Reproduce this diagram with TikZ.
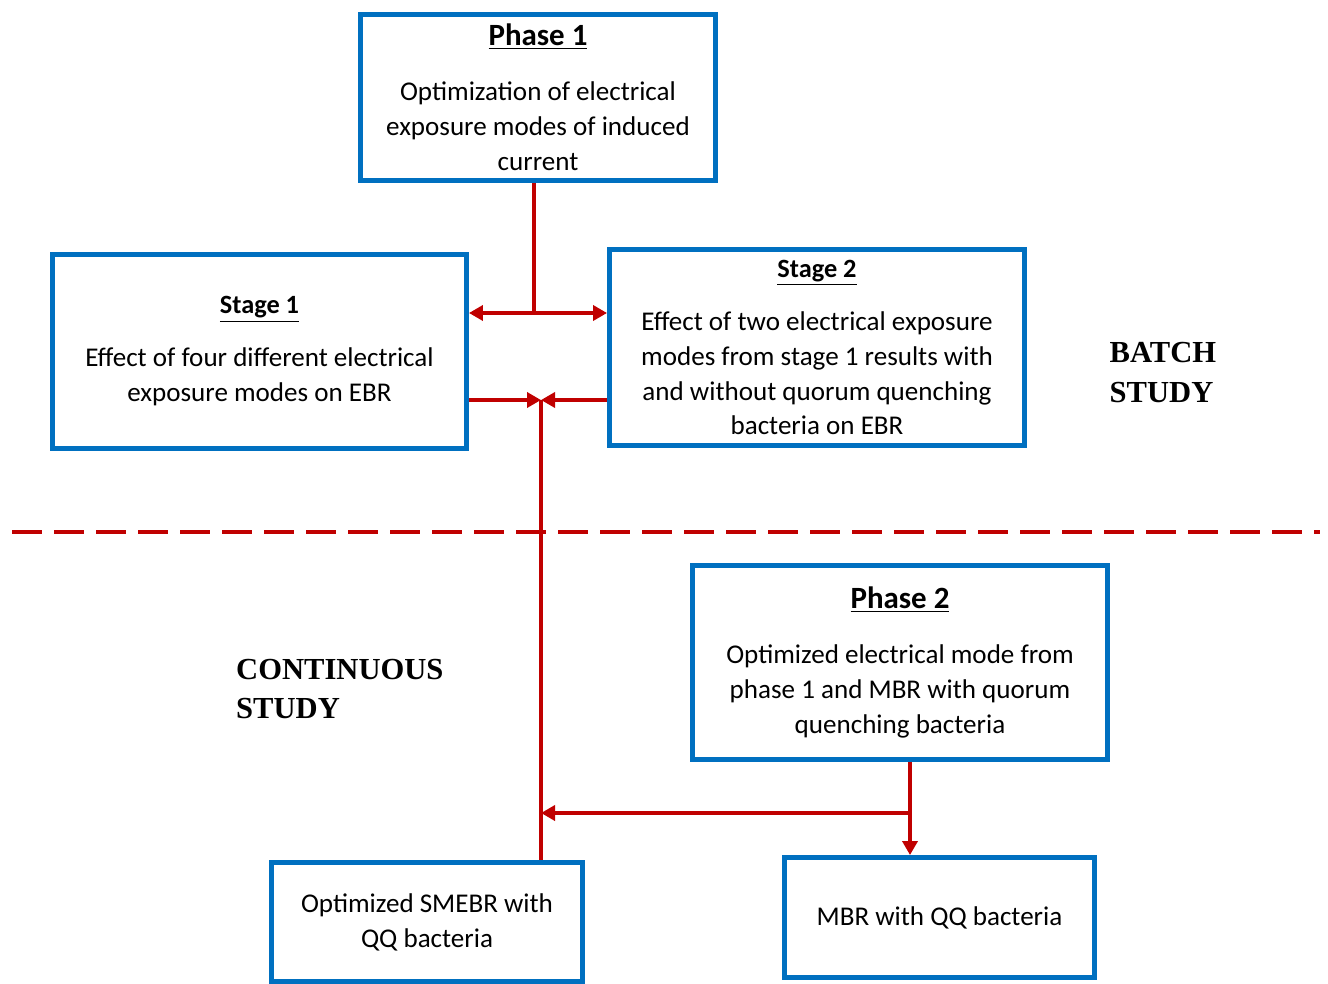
\documentclass[tikz,border=0pt]{standalone}
\usepackage{fontspec}
\setmainfont{Carlito}
\newfontfamily\studyfont{Liberation Serif}
\usepackage{tikz}
\usetikzlibrary{arrows.meta,positioning,calc}

\definecolor{boxblue}{RGB}{0,112,192}
\definecolor{linkred}{RGB}{192,0,0}

\tikzset{
  phasebox/.style={draw=boxblue, line width=2.8pt, rectangle, fill=white, align=center,
    font=\fontsize{15.4}{19.9}\selectfont},
  link/.style={draw=linkred, line width=2.3pt},
  linkarrow/.style={link, -{Triangle[length=0.28cm,width=0.3cm]}},
  studylabel/.style={align=left, anchor=west, font=\studyfont\bfseries\fontsize{17.4}{22.7}\selectfont},
}
\newcommand{\phasetitle}[1]{{\fontsize{17.6}{20}\selectfont\bfseries\underline{#1}}\\[0.4cm]}
\newcommand{\stagetitle}[1]{{\fontsize{15}{18}\selectfont\bfseries\underline{#1}}\\[0.36cm]}

\begin{document}
\begin{tikzpicture}
  \useasboundingbox (0,0) rectangle (26.56,-19.66);

  % Batch study
  \node[phasebox, minimum width=7.1cm, minimum height=3.32cm] (phase1) at (10.76,-1.95)
    {\phasetitle{Phase 1}Optimization of electrical\\exposure modes of induced\\current};

  \node[phasebox, minimum width=8.28cm, minimum height=3.88cm] (stage1) at (5.19,-7.03)
    {\stagetitle{Stage 1}Effect of four different electrical\\exposure modes on EBR};

  \node[phasebox, minimum width=8.3cm, minimum height=3.92cm] (stage2) at (16.34,-6.95)
    {\stagetitle{Stage 2}Effect of two electrical exposure\\modes from stage 1 results with\\and without quorum quenching\\bacteria on EBR};

  \node[studylabel] (batch) at (22.07,-7.45) {BATCH\\STUDY};

  % Continuous study
  \node[phasebox, minimum width=8.3cm, minimum height=3.88cm] (phase2) at (18.0,-13.25)
    {\phasetitle{Phase 2}Optimized electrical mode from\\phase 1 and MBR with quorum\\quenching bacteria};

  \node[phasebox, minimum width=6.22cm, minimum height=2.38cm] (smebr) at (8.54,-18.44)
    {Optimized SMEBR with\\QQ bacteria};

  \node[phasebox, minimum width=6.2cm, minimum height=2.4cm] (mbr) at (18.79,-18.35)
    {MBR with QQ bacteria};

  \node[studylabel] (continuous) at (4.6,-13.78) {CONTINUOUS\\STUDY};

  % Divider
  \coordinate (divl) at (0.24,-10.64);
  \coordinate (divr) at (26.4,-10.64);
  \draw[link, dash pattern=on 0.6cm off 0.24cm] (divl) -- (divr);

  % Connectors
  \coordinate (split1) at (10.68,-6.26);
  \coordinate (merge) at (10.82,-8.0);
  \coordinate (split2) at (18.2,-16.26);

  \draw[link] (phase1.south -| split1) -- (split1);
  \draw[link, {Triangle[length=0.28cm,width=0.3cm]}-{Triangle[length=0.28cm,width=0.3cm]}] (stage1.east |- split1) -- (stage2.west |- split1);

  \draw[linkarrow] (stage1.east |- merge) -- (merge);
  \draw[linkarrow] (stage2.west |- merge) -- (merge);
  \draw[link] (merge) -- (merge |- smebr.north);

  \draw[linkarrow] (phase2.south -| split2) -- (mbr.north -| split2);
  \draw[linkarrow] (split2) -- (split2 -| merge);
\end{tikzpicture}
\end{document}
